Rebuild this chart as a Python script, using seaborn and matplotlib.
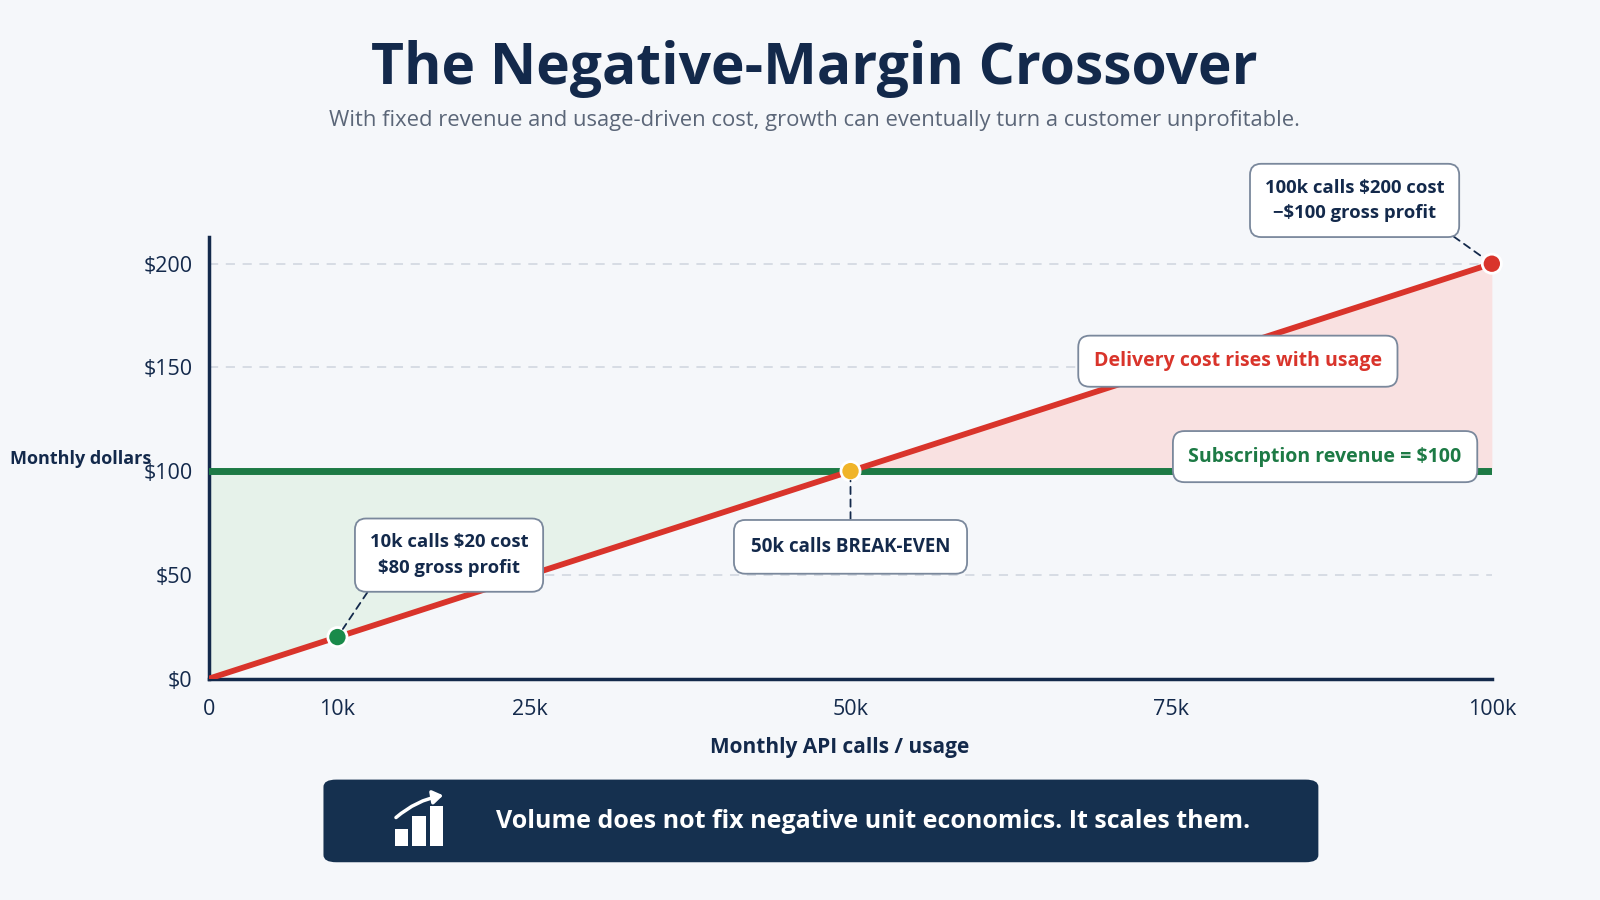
import numpy as np
import pandas as pd
import seaborn as sns
import matplotlib.pyplot as plt
from matplotlib.patches import FancyBboxPatch, Rectangle, FancyArrowPatch

# datos del grafico
usage = [0, 10000, 25000, 50000, 75000, 100000]
cost = [0, 20, 50, 100, 150, 200]
revenue = [100, 100, 100, 100, 100, 100]
x_ticks = [0, 10000, 25000, 50000, 75000, 100000]
x_labels = ['0', '10k', '25k', '50k', '75k', '100k']
y_ticks = [0, 50, 100, 150, 200]
y_labels = ['$0', '$50', '$100', '$150', '$200']
key_x = [10000, 50000, 100000]
key_y = [20, 100, 200]
key_colors = ['#1a8a4a', '#f0b429', '#d9342b']

NAVY = '#13294b'
GREEN = '#1d7a45'
RED = '#d9342b'
BG = '#f5f7fa'

sns.set_theme(style='white')
plt.rcParams['font.family'] = ['Open Sans', 'DejaVu Sans']

df = pd.DataFrame({'usage': usage, 'cost': cost, 'revenue': revenue})

fig = plt.figure(figsize=(16, 9), dpi=100, facecolor=BG)
ax = fig.add_axes([205/1568, 1-665/882, (1462-205)/1568, (665-232)/882])
ax.set_facecolor(BG)

# areas
u = np.array(usage)
c = np.array(cost)
r = np.array(revenue)
ax.fill_between(u, c, r, where=u <= 50000, color='#e6f2ea', zorder=1, linewidth=0)
ax.fill_between(u, r, c, where=u >= 50000, color='#f9e1e1', zorder=1, linewidth=0)

for yv in y_ticks[1:]:
    ax.axhline(yv, color='#cfd5de', lw=1.1, ls=(0, (6, 5)), zorder=0.5)

sns.lineplot(data=df, x='usage', y='revenue', color=GREEN, lw=5, ax=ax, zorder=3)
sns.lineplot(data=df, x='usage', y='cost', color=RED, lw=4.2, ax=ax, zorder=4)
sns.scatterplot(x=key_x, y=key_y, hue=key_x, palette=key_colors, s=190,
                edgecolor='white', linewidth=2, legend=False, ax=ax, zorder=6, clip_on=False)

ax.set_xlim(0, 100000)
ax.set_ylim(0, 213)
ax.set_xticks(x_ticks)
ax.set_xticklabels(x_labels)
ax.set_yticks(y_ticks)
ax.set_yticklabels(y_labels)
ax.tick_params(axis='both', colors=NAVY, labelsize=15.5, length=6, width=1.5, pad=6)
ax.tick_params(axis='x', pad=9)
ax.set_xlabel('')
ax.set_ylabel('')
for s in ['top', 'right']:
    ax.spines[s].set_visible(False)
for s in ['left', 'bottom']:
    ax.spines[s].set_color(NAVY)
    ax.spines[s].set_linewidth(2.5)

box = dict(boxstyle='round,pad=0.8,rounding_size=0.6', fc='white', ec='#7a889c', lw=1.3)
conn = dict(arrowstyle='-', color=NAVY, lw=1.3, ls=(0, (4, 3)), shrinkA=0, shrinkB=7)

ax.annotate('10k calls $20 cost\n$80 gross profit', xy=(10000, 20), xytext=(18700, 59.5),
            ha='center', va='center', fontsize=13.3, fontweight='bold', color=NAVY,
            linespacing=1.55, bbox=box, arrowprops=dict(conn, relpos=(0.05, 0)), zorder=7)
ax.annotate('50k calls BREAK-EVEN', xy=(50000, 100), xytext=(50000, 63.5),
            ha='center', va='center', fontsize=13.5, fontweight='bold', color=NAVY,
            bbox=dict(box, boxstyle='round,pad=0.9,rounding_size=0.6'),
            arrowprops=conn, zorder=7)
ax.annotate('100k calls $200 cost\n\u2212$100 gross profit', xy=(100000, 200), xytext=(89300, 230.5),
            ha='center', va='center', fontsize=13.3, fontweight='bold', color=NAVY,
            linespacing=1.55, bbox=box, arrowprops=dict(conn, relpos=(0.94, 0)),
            zorder=7, annotation_clip=False)
ax.text(80200, 153, 'Delivery cost rises with usage', ha='center', va='center',
        fontsize=14, fontweight='bold', color=RED, bbox=box, zorder=7)
ax.text(87000, 107, 'Subscription revenue = $100', ha='center', va='center',
        fontsize=14, fontweight='bold', color=GREEN, bbox=box, zorder=7)

# titulos
fig.text(798/1568, 1-68/882, 'The Negative-Margin Crossover', ha='center', va='center',
         fontsize=41, fontweight='bold', color=NAVY)
fig.text(798/1568, 1-118/882,
         'With fixed revenue and usage-driven cost, growth can eventually turn a customer unprofitable.',
         ha='center', va='center', fontsize=15.8, color='#5b6678')
fig.text(10/1568, 1-450/882, 'Monthly dollars', ha='left', va='center',
         fontsize=13, fontweight='bold', color=NAVY)
fig.text(823/1568, 1-733/882, 'Monthly API calls / usage', ha='center', va='center',
         fontsize=15, fontweight='bold', color=NAVY)

# banda inferior
fig.patches.append(FancyBboxPatch((317/1568, 1-845/882), 975/1568, 81/882,
                                  boxstyle='round,pad=0,rounding_size=0.008',
                                  transform=fig.transFigure, fc='#15304f', ec='none'))
bars = [(387, 812), (404, 800), (421, 790)]
for bx, top in bars:
    fig.patches.append(Rectangle((bx/1568, 1-829/882), 13/1568, (829-top)/882,
                                 transform=fig.transFigure, fc='white', ec='none'))
fig.patches.append(FancyArrowPatch((386/1568, 1-803/882), (437/1568, 1-779/882),
                                   connectionstyle='arc3,rad=-0.15', arrowstyle='-|>,head_length=6,head_width=4',
                                   transform=fig.transFigure, color='white', lw=2.5))
fig.text(856/1568, 1-805/882, 'Volume does not fix negative unit economics. It scales them.',
         ha='center', va='center', fontsize=18, fontweight='bold', color='white')

fig.savefig('out.png', dpi=100, facecolor=BG)
